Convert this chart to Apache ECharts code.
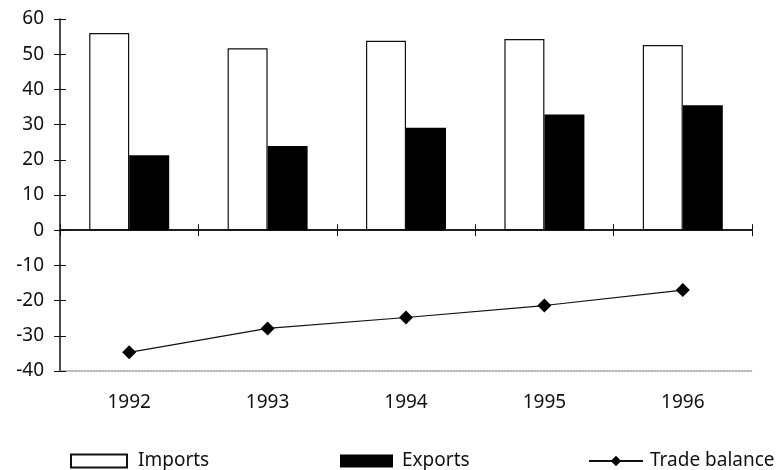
<!DOCTYPE html>
<html>
<head>
<meta charset="utf-8">
<script src="https://cdn.jsdelivr.net/npm/echarts@6/dist/echarts.min.js"></script>
<style>
    html, body { margin: 0; padding: 0; background: #fff; }
    #chart { width: 784px; height: 470px; }
</style>
</head>
<body>
<div id="chart"></div>
<script>
// 数据
var years = ['1992', '1993', '1994', '1995', '1996'];
var imports = [56.0, 51.7, 53.8, 54.3, 52.6];
var exports = [21.3, 23.9, 29.1, 32.9, 35.5];
var tradeBalance = [-34.7, -27.9, -24.8, -21.4, -17.0];

var font = 'Noto Sans';
var ink = '#111';
var fs = 19;

var chart = echarts.init(document.getElementById('chart'));

// 两条x轴都放在0处, 一条朝下一条朝上, 让刻度穿过轴线
function zeroAxis(pos) {
    return {
        type: 'category',
        data: years,
        position: pos,
        axisLine: { onZero: true, lineStyle: { color: ink, width: 1.5 } },
        axisTick: { show: true, length: 6, lineStyle: { color: ink } },
        axisLabel: { show: false },
        splitLine: { show: false }
    };
}

// 图例, 每个单独放
function legendItem(name, left, w, gap, icon) {
    var l = {
        data: [{ name: name }], left: left, top: 446,
        itemWidth: w, itemHeight: 13,
        textStyle: { fontFamily: font, fontSize: fs, lineHeight: 20, color: ink, padding: [0, 0, 0, gap] }
    };
    if (icon) l.data[0].icon = icon;
    return l;
}

var option = {
    backgroundColor: '#fff',
    animation: false,
    textStyle: { fontFamily: font, color: ink },
    grid: { left: 60, right: 32, top: 19, bottom: 99 },
    legend: [
        legendItem('Imports', 65, 56, 6, 'rect'),
        legendItem('Exports', 335, 53, 4, 'rect'),
        legendItem('Trade balance', 583, 54, 2)
    ],
    xAxis: [
        {
            // 底部的年份标签 + 灰色虚线
            type: 'category',
            data: years,
            position: 'bottom',
            axisLine: { onZero: false, lineStyle: { color: '#999', type: 'dotted', width: 1.5 } },
            axisTick: { show: false },
            axisLabel: { fontFamily: font, fontSize: fs, color: ink, margin: 22 },
            splitLine: { show: false }
        },
        zeroAxis('bottom'),
        zeroAxis('top')
    ],
    yAxis: [
        {
            type: 'value',
            min: -40, max: 60, interval: 10,
            axisLine: { show: true, lineStyle: { color: ink, width: 1.5 } },
            axisTick: { show: true, length: 6, lineStyle: { color: ink } },
            axisLabel: { fontFamily: font, fontSize: fs, color: ink, margin: 16 },
            splitLine: { show: false }
        },
        {
            type: 'value',
            position: 'left',
            min: -40, max: 60, interval: 10,
            axisLine: { show: false },
            axisTick: { show: true, inside: true, length: 6, lineStyle: { color: ink } },
            axisLabel: { show: false },
            splitLine: { show: false }
        }
    ],
    series: [
        {
            name: 'Imports',
            type: 'bar',
            data: imports,
            barWidth: 40,
            barGap: '0%',
            itemStyle: { color: '#fff', borderColor: ink, borderWidth: 1.2 }
        },
        {
            name: 'Exports',
            type: 'bar',
            data: exports,
            barWidth: 40,
            barGap: '0%',
            itemStyle: { color: '#000' }
        },
        {
            name: 'Trade balance',
            type: 'line',
            data: tradeBalance,
            symbol: 'diamond',
            symbolSize: 14,
            lineStyle: { color: ink, width: 1.2 },
            itemStyle: { color: '#000' }
        }
    ]
};

chart.setOption(option);
</script>
</body>
</html>
